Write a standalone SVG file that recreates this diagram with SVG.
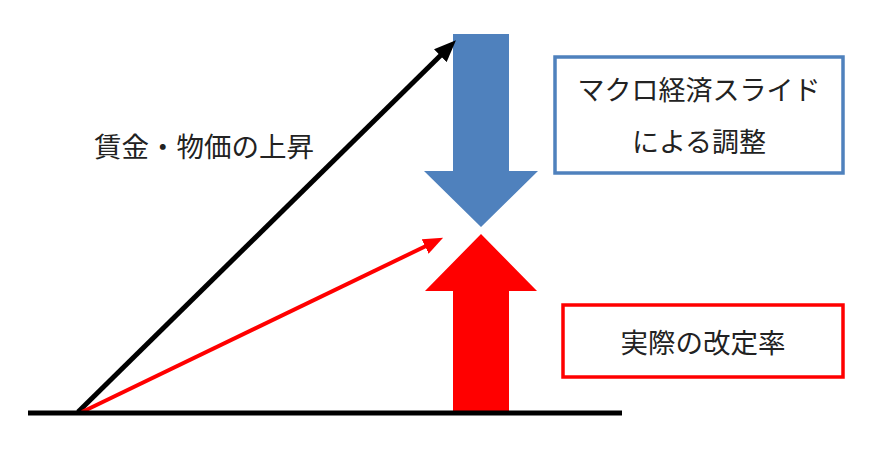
<svg xmlns="http://www.w3.org/2000/svg" width="870" height="452" viewBox="0 0 870 452">
<style>
.t{font-family:"Noto Sans CJK JP","Noto Sans",sans-serif;fill:#222;text-anchor:middle;dominant-baseline:central}
.box{fill:#fff;stroke-width:3.5}
</style>
<defs>
<marker id="hb" markerUnits="userSpaceOnUse" markerWidth="22" markerHeight="18" refX="1" refY="9" orient="auto" viewBox="0 0 22 18">
<path d="M0,0 L22,9 L0,18 z" fill="#000"/>
</marker>
<marker id="hr" markerUnits="userSpaceOnUse" markerWidth="20" markerHeight="16" refX="1" refY="8" orient="auto" viewBox="0 0 20 16">
<path d="M0,0 L20,8 L0,16 z" fill="#f00"/>
</marker>
</defs>
<rect width="870" height="452" fill="#fff"/>
<g id="blue-arrow"><polygon points="453,34 509,34 509,171 538,171 481,227 424,171 453,171" fill="#4F81BD"/></g>
<g id="red-arrow"><polygon points="481,234 537,291 509,291 509,412 453,412 453,291 425,291" fill="#f00"/></g>
<g id="connectors">
<line x1="78" y1="412" x2="441" y2="55" stroke="#000" stroke-width="5" marker-end="url(#hb)"/>
<line x1="82" y1="412" x2="426" y2="246" stroke="#f00" stroke-width="4" marker-end="url(#hr)"/>
<line x1="28" y1="413" x2="622" y2="413" stroke="#000" stroke-width="5"/>
</g>
<g id="label-rise"><text class="t" x="204" y="145" font-size="27.5">賃金・物価の上昇</text></g>
<g id="box-macro">
<rect class="box" x="555" y="57" width="288" height="116" stroke="#4F81BD"/>
<text class="t" x="699" y="88" font-size="27">マクロ経済スライド</text>
<text class="t" x="699" y="140" font-size="27">による調整</text>
</g>
<g id="box-actual">
<rect class="box" x="563" y="305" width="280" height="72" stroke="#f00"/>
<text class="t" x="703" y="341" font-size="27.5">実際の改定率</text>
</g>
</svg>
